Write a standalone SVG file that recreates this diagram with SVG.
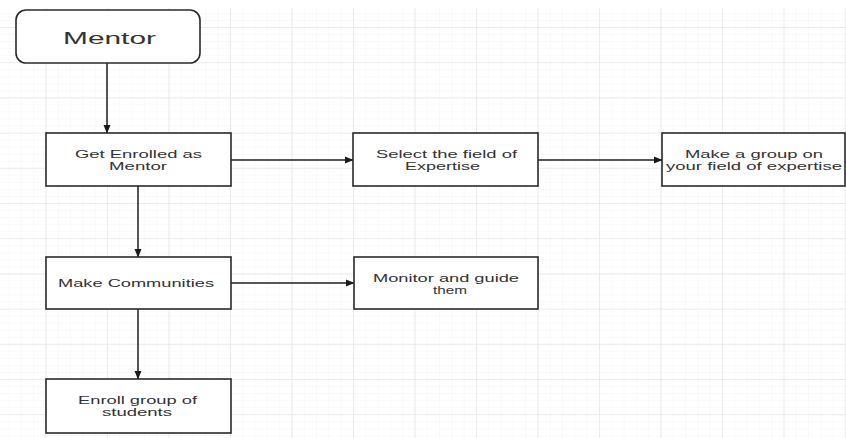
<svg xmlns="http://www.w3.org/2000/svg" width="846" height="438" viewBox="0 0 846 438">
  <defs>
    <pattern id="minor" x="45.5" y="27" width="12.3" height="7.04" patternUnits="userSpaceOnUse">
      <path d="M0,0 V7.04 M0,0 H12.3" fill="none" stroke="#f4f4f4" stroke-width="1"/>
    </pattern>
    <pattern id="major" x="45.5" y="27" width="61.5" height="35.2" patternUnits="userSpaceOnUse">
      <path d="M0,0 V35.2 M0,0 H61.5" fill="none" stroke="#e6e6e6" stroke-width="1.5"/>
    </pattern>
    <marker id="arr" markerWidth="9" markerHeight="8" refX="8" refY="4" orient="auto" markerUnits="userSpaceOnUse">
      <path d="M0,0.5 L8.5,4 L0,7.5 z" fill="#1a1a1a"/>
    </marker>
  </defs>
  <style>
    .box { fill: #ffffff; stroke: #2a2a2a; stroke-width: 1.6; }
    .lbl { font-family: "Liberation Sans", Arial, sans-serif; font-size: 11px; fill: #333333; lengthAdjust: spacingAndGlyphs; }
    .conn { stroke: #1e1e1e; stroke-width: 1.5; fill: none; marker-end: url(#arr); }
  </style>
  <rect x="0" y="0" width="846" height="438" fill="#ffffff"/>
  <rect x="0" y="8" width="846" height="430" fill="url(#minor)"/>
  <rect x="0" y="8" width="846" height="430" fill="url(#major)"/>

  <g id="connectors">
    <line class="conn" x1="107" y1="63" x2="107" y2="133"/>
    <line class="conn" x1="138" y1="186" x2="138" y2="257"/>
    <line class="conn" x1="138" y1="309" x2="138" y2="379"/>
    <line class="conn" x1="231" y1="160" x2="353" y2="160"/>
    <line class="conn" x1="538" y1="160" x2="662" y2="160"/>
    <line class="conn" x1="231" y1="283" x2="354" y2="283"/>
  </g>

  <g id="mentor">
    <rect class="box" x="16" y="10" width="184" height="53" rx="10" ry="10"/>
    <text x="63" y="43.5" font-family="Liberation Sans, Arial, sans-serif" font-size="17" fill="#333" textLength="93" lengthAdjust="spacingAndGlyphs">Mentor</text>
  </g>

  <g id="get-enrolled">
    <rect class="box" x="46" y="133" width="185" height="53"/>
    <text class="lbl" x="75" y="157.5" textLength="127" lengthAdjust="spacingAndGlyphs">Get Enrolled as</text>
    <text class="lbl" x="109" y="169.5" textLength="58" lengthAdjust="spacingAndGlyphs">Mentor</text>
  </g>

  <g id="select-field">
    <rect class="box" x="353" y="133" width="185" height="53"/>
    <text class="lbl" x="376" y="157.5" textLength="141" lengthAdjust="spacingAndGlyphs">Select the field of</text>
    <text class="lbl" x="405" y="169.5" textLength="75" lengthAdjust="spacingAndGlyphs">Expertise</text>
  </g>

  <g id="make-group">
    <rect class="box" x="662" y="133" width="183" height="53"/>
    <text class="lbl" x="685" y="157.5" textLength="138" lengthAdjust="spacingAndGlyphs">Make a group on</text>
    <text class="lbl" x="666" y="169.5" textLength="176" lengthAdjust="spacingAndGlyphs">your field of expertise</text>
  </g>

  <g id="make-communities">
    <rect class="box" x="46" y="257" width="185" height="52"/>
    <text class="lbl" x="58" y="287" textLength="156" lengthAdjust="spacingAndGlyphs">Make Communities</text>
  </g>

  <g id="monitor">
    <rect class="box" x="354" y="257" width="184" height="52"/>
    <text class="lbl" x="373" y="281.5" textLength="146" lengthAdjust="spacingAndGlyphs">Monitor and guide</text>
    <text class="lbl" x="433" y="293.5" textLength="34" lengthAdjust="spacingAndGlyphs">them</text>
  </g>

  <g id="enroll-students">
    <rect class="box" x="46" y="379" width="185" height="54"/>
    <text class="lbl" x="78" y="403.5" textLength="119" lengthAdjust="spacingAndGlyphs">Enroll group of</text>
    <text class="lbl" x="102" y="415.5" textLength="70" lengthAdjust="spacingAndGlyphs">students</text>
  </g>
</svg>
